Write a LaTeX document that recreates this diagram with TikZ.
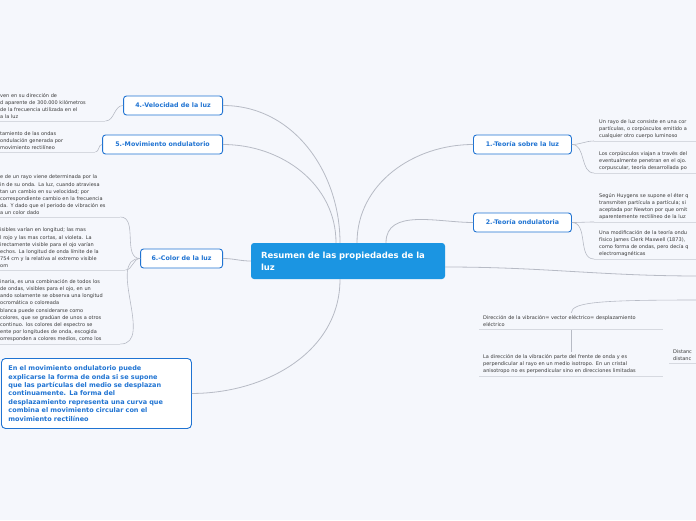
\documentclass[tikz,border=0pt]{standalone}
\usepackage{fontspec}
\setmainfont{DejaVu Sans}
\usetikzlibrary{positioning}

\definecolor{bgpage}{HTML}{F5F7FC}
\definecolor{rootblue}{HTML}{1B95E2}
\definecolor{topicblue}{HTML}{1F73D2}
\definecolor{linkgrey}{HTML}{B7BBC5}
\definecolor{rulegrey}{HTML}{D6D9E0}
\definecolor{leafgrey}{HTML}{3A3A3A}

\begin{document}
\begin{tikzpicture}[
        x=1pt, y=-1pt,
        root/.style={
            rectangle,
            fill=rootblue,
            rounded corners=3pt,
            text=white,
            align=left,
            text width=174pt,
            inner xsep=10pt,
            minimum height=36pt,
            font=\fontsize{8.5}{12}\selectfont\bfseries
        },
        topic/.style={
            rectangle,
            draw=topicblue,
            line width=0.9pt,
            fill=white,
            rounded corners=3pt,
            text=topicblue,
            minimum height=19pt,
            inner xsep=0pt,
            font=\fontsize{6.3}{8}\selectfont\bfseries
        },
        note/.style={topic, align=left, inner xsep=7pt, rounded corners=4pt,
            font=\fontsize{6.5}{8.4}\selectfont\bfseries},
        leaf/.style={
            rectangle,
            anchor=south west,
            align=left,
            text=leafgrey,
            inner xsep=5pt,
            inner ysep=2.3pt,
            font=\fontsize{5}{7.1}\selectfont
        },
        link/.style={draw=linkgrey, line width=0.8pt},
        twig/.style={draw=linkgrey, line width=0.6pt},
        uline/.style={draw=rulegrey, line width=0.8pt},
    ]

        \def\leftx{223}
        \def\rightx{473}
        \def\farx{594}

        \useasboundingbox (0,0) rectangle (696,520);
        \fill[bgpage] (0,0) rectangle (696,520);
        \clip (0,0) rectangle (696,520);

        \node[root] (root) at (348,261) {Resumen de las propiedades de la\\luz};

        \node[topic, minimum width=99pt, anchor=east] (t4) at (\leftx,105.5) {4.-Velocidad de la luz};
        \node[topic, minimum width=120pt, anchor=east] (t5) at (\leftx,144.5) {5.-Movimiento ondulatorio};
        \node[topic, minimum width=82pt, anchor=east] (t6) at (\leftx,258.5) {6.-Color de la luz};
        \node[topic, minimum width=98pt, anchor=west] (t1) at (\rightx,144.5) {1.-Teoría sobre la luz};
        \node[topic, minimum width=98pt, anchor=west] (t2) at (\rightx,222.5) {2.-Teoría ondulatoria};

        \node[note, anchor=north west, text width=176pt, minimum height=70pt] (big) at (1,358)
            {En el movimiento ondulatorio puede\\explicarse la forma de onda si se supone\\que las partículas del medio se desplazan\\continuamente. La forma del\\desplazamiento representa una curva que\\combina el movimiento circular con el\\movimiento rectilíneo};

        % left leaves
        \node[leaf, text width=100pt] (l4) at (-5,121)
            {ven en su dirección de\\d aparente de 300.000 kilómetros\\de la frecuencia utilizada en el\\a la luz};
        \node[leaf, text width=90pt] (l5) at (-5,152)
            {tamiento de las ondas\\ondulación generada por\\movimiento rectilíneo};
        \node[leaf, text width=115pt] (l6a) at (-5,217)
            {e de un rayo viene determinada por la\\in de su onda. La luz, cuando atraviesa\\tan un cambio en su velocidad; por\\correspondiente cambio en la frecuencia\\da. Y dado que el periodo de vibración es\\a un color dado};
        \node[leaf, text width=120pt] (l6b) at (-5,270)
            {isibles varían en longitud; las mas\\l rojo y las mas cortas, al violeta. La\\irectamente visible para el ojo varían\\echos. La longitud de onda límite de la\\754 cm y la relativa al extremo visible\\om};
        \node[leaf, text width=115pt] (l6c) at (-5,344)
            {inaria, es una combinación de todos los\\de ondas, visibles para el ojo, en un\\ando solamente se observa una longitud\\ocromática o coloreada\\blanca puede considerarse como\\colores, que se gradúan de unos a otros\\continuo. los colores del espectro se\\ente por longitudes de onda, escogida\\orresponden a colores medios, como los};

        % right leaves
        \node[leaf, text width=120pt] (l1a) at (\farx,141)
            {Un rayo de luz consiste en una cor\\partículas, o corpúsculos emitido a\\cualquier otro cuerpo luminoso};
        \node[leaf, text width=120pt] (l1b) at (\farx,173)
            {Los corpúsculos viajan a través del\\eventualmente penetran en el ojo.\\corpuscular, teoría desarrollada po};
        \node[leaf, text width=120pt] (l2a) at (\farx,222)
            {Según Huygens se supone el éter q\\transmiten partícula a partícula; si\\aceptada por Newton por que omit\\aparentemente rectilíneo de la luz};
        \node[leaf, text width=120pt] (l2b) at (\farx,259)
            {Una modificación de la teoría ondu\\físico James Clerk Maxwell (1873),\\como forma de ondas, pero decía q\\electromagnéticas};

        % bottom leaves
        \node[leaf, inner xsep=4pt, text width=176pt] (l3a) at (479,329)
            {Dirección de la vibración= vector eléctrico= desplazamiento\\eléctrico};
        \node[leaf, inner xsep=4pt, text width=176pt] (l3b) at (479,376)
            {La dirección de la vibración parte del frente de onda y es\\perpendicular al rayo en un medio isotropo. En un cristal\\anisotropo no es perpendicular sino en direcciones limitadas};
        \node[leaf, inner xsep=4pt, text width=40pt] (l3c) at (669,363)
            {Distanc\\distanc};

        \coordinate (away) at (700,276);
        \coordinate (away3) at (700,300);

        \draw[link] ([xshift=-8pt]root.north) to[out=90,in=0] (t4.east);
        \draw[link] ([xshift=-12pt]root.north) to[out=90,in=0] (t5.east);
        \draw[link] (root.west) to[out=180,in=0] (t6.east);
        \draw[link] ([xshift=-8pt]root.south) to[out=270,in=0] (big.east);
        \draw[link] ([xshift=9pt]root.north) to[out=90,in=180] (t1.west);
        \draw[link] ([xshift=38pt]root.north) to[out=90,in=180] (t2.west);
        \draw[link] ([yshift=-6pt]root.east) to[out=0,in=180] (away);

        \draw[twig] (t4.west) to[out=180,in=0] (l4.south east);
        \draw[twig] (t5.west) to[out=180,in=0] (l5.south east);
        \draw[twig] (t6.west) to[out=180,in=0] (l6a.south east);
        \draw[twig] (t6.west) to[out=180,in=0] (l6b.south east);
        \draw[twig] (t6.west) to[out=180,in=0] (l6c.south east);
        \draw[twig] (t1.east) to[out=0,in=180] (l1a.south west);
        \draw[twig] (t1.east) to[out=0,in=180] (l1b.south west);
        \draw[twig] (t2.east) to[out=0,in=180] (l2a.south west);
        \draw[twig] (t2.east) to[out=0,in=180] (l2b.south west);
        \draw[twig] (away3) .. controls (600,300) and (572,302) .. (l3a.north);
        \draw[twig] (l3a.south) -- (l3b.north);

        \foreach \n in {l4,l5,l6a,l6b,l6c,l1a,l1b,l2a,l2b,l3a,l3b,l3c}
            \draw[uline] (\n.south west) -- (\n.south east);

    \end{tikzpicture}
\end{document}
